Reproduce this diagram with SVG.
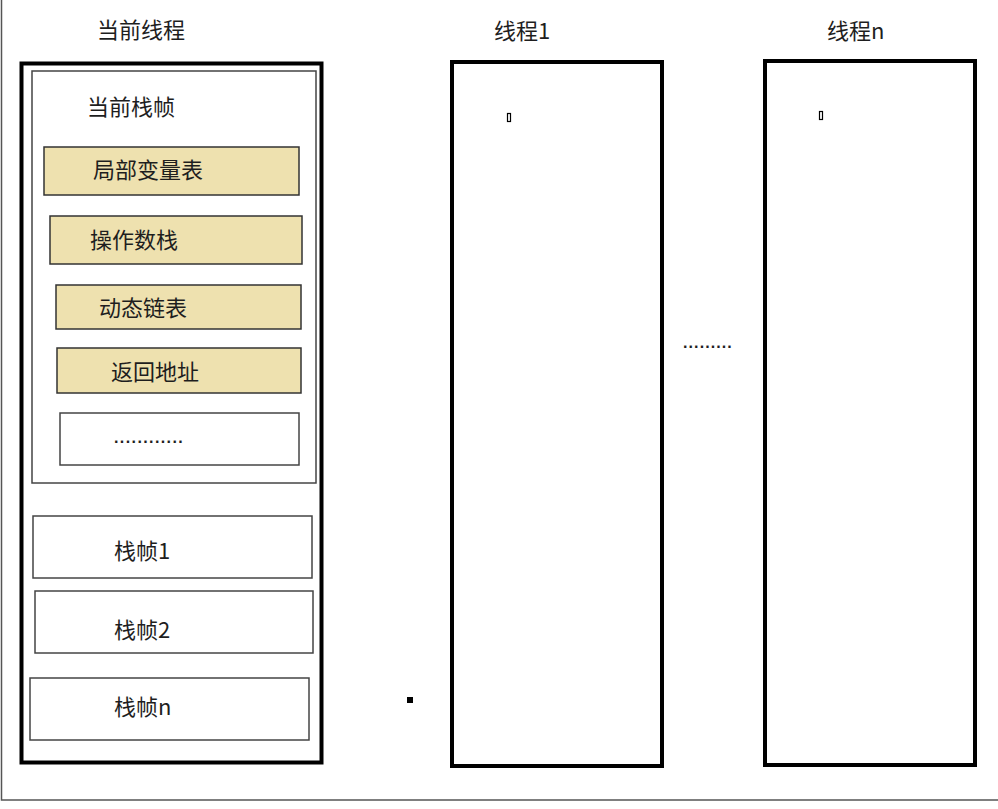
<svg xmlns="http://www.w3.org/2000/svg" width="998" height="809" viewBox="0 0 998 809">
<style>
text{font-family:"Noto Sans CJK SC","Noto Sans",sans-serif;font-size:22px;fill:#1e1e1e;dominant-baseline:central}
.dots{font-family:"Liberation Sans",sans-serif;font-weight:bold}
.thick{fill:#fff;stroke:#000;stroke-width:4}
.thin{fill:#fff;stroke:#444;stroke-width:1.5}
.tan{fill:#eee1af;stroke:#333;stroke-width:1.5}
.tiny{fill:#fff;stroke:#000;stroke-width:1.2}
</style>
<rect width="998" height="809" fill="#fff"/>
<path d="M1.5,0 V800 H998" fill="none" stroke="#555" stroke-width="1.5"/>

<g id="current-thread">
<text x="97" y="27.5">当前线程</text>
<rect class="thick" x="21.5" y="63.5" width="300" height="699"/>
</g>
<g id="current-frame">
<rect class="thin" x="32" y="71" width="284" height="412"/>
<text x="87" y="105">当前栈帧</text>
</g>
<g id="local-vars">
<rect class="tan" x="44" y="147" width="255" height="48"/>
<text x="93" y="167.5">局部变量表</text>
</g>
<g id="operand-stack">
<rect class="tan" x="50" y="216" width="252" height="48"/>
<text x="90" y="238">操作数栈</text>
</g>
<g id="dynamic-link">
<rect class="tan" x="56" y="285" width="245" height="44"/>
<text x="99" y="306">动态链表</text>
</g>
<g id="return-address">
<rect class="tan" x="57" y="348" width="244" height="45"/>
<text x="111" y="369.5">返回地址</text>
</g>
<g id="more-items">
<rect class="thin" x="60" y="413" width="239" height="52"/>
<text class="dots" x="114" y="437" style="font-size:16px;letter-spacing:1.4px">............</text>
</g>
<g id="frame-1">
<rect class="thin" x="33" y="516" width="279" height="62"/>
<text x="114" y="549">栈帧1</text>
</g>
<g id="frame-2">
<rect class="thin" x="35" y="591" width="278" height="62"/>
<text x="114" y="628">栈帧2</text>
</g>
<g id="frame-n">
<rect class="thin" x="30" y="678" width="279" height="62"/>
<text x="114" y="705">栈帧n</text>
</g>

<g id="thread-1">
<text x="494" y="28.5">线程1</text>
<rect class="thick" x="452" y="62" width="210" height="704"/>
<rect class="tiny" x="507.5" y="113.5" width="3" height="8"/>
</g>
<g id="ellipsis">
<text class="dots" x="683" y="342" style="font-size:16px;letter-spacing:1.1px">.........</text>
</g>
<g id="thread-n">
<text x="827" y="28.5">线程n</text>
<rect class="thick" x="765" y="61" width="210" height="704"/>
<rect class="tiny" x="819.5" y="111.5" width="3" height="8"/>
</g>
<rect id="dot" x="407" y="697" width="6" height="6" fill="#000"/>
<g id="connectors"></g>
</svg>
